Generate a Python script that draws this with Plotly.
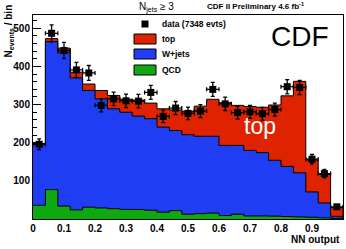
import plotly.graph_objects as go

# ---- data ----
bin_edges = [0.00, 0.04, 0.08, 0.12, 0.16, 0.20, 0.24, 0.28, 0.32, 0.36, 0.40, 0.44, 0.48,
             0.52, 0.56, 0.60, 0.64, 0.68, 0.72, 0.76, 0.80, 0.84, 0.88, 0.92, 0.96, 1.00]
qcd = [36, 77, 34, 24, 31, 29, 27, 25, 25, 23, 18, 22, 12.5, 14, 15.5, 9, 12.5, 8, 8, 7.5,
       6.5, 5.5, 4.5, 3, 1.5]
wjets = [159, 388, 402, 346, 306, 286, 262, 255, 245, 240, 223, 210, 208.5, 203, 201.5, 184,
         180.5, 172, 166, 146.5, 131.5, 115.5, 66.5, 39, 5.5]
top = [3, 8, 12, 15, 17, 22, 35, 34, 42, 41, 48, 54, 62, 79, 97, 112, 105, 115, 119, 145,
       185, 240, 84, 75, 23]
data = [196, 487, 442, 391, 383, 298, 315, 310, 309, 332, 269, 291, 277, 283, 340, 302, 279,
        281, 276, 287, 347, 345, 157, 119, 32]
data_err = [14.0, 22.1, 21.0, 19.8, 19.6, 17.3, 17.7, 17.6, 17.6, 18.2, 16.4, 17.1, 16.6,
            16.8, 18.4, 17.4, 16.7, 16.8, 16.6, 16.9, 18.6, 18.6, 12.5, 10.9, 5.7]
x_tickvals = [0, 0.1, 0.2, 0.3, 0.4, 0.5, 0.6, 0.7, 0.8, 0.9, 1.0]
x_ticktext = ["0", "0.1", "0.2", "0.3", "0.4", "0.5", "0.6", "0.7", "0.8", "0.9", "1"]
y_tickvals = [100, 200, 300, 400, 500]

RED = "#DF2200"
BLUE = "#1F3DF2"
GREEN = "#10A810"
FONT = "Liberation Sans"

W, H = 346, 249
L, R, T, B = 33, 3, 15, 30
PW, PH = W - L - R, H - T - B


def px2x(px):
    return (px - L) / PW


def py2y(py):
    return (H - B - py) / PH


n = len(data)
centers = [(bin_edges[i] + bin_edges[i + 1]) / 2 for i in range(n)]
half_w = [(bin_edges[i + 1] - bin_edges[i]) / 2 for i in range(n)]

# cumulative stacks
lvl_qcd = list(qcd)
lvl_w = [qcd[i] + wjets[i] for i in range(n)]
lvl_tot = [lvl_w[i] + top[i] for i in range(n)]

fig = go.Figure()

for lvl, col in [(lvl_tot, RED), (lvl_w, BLUE), (lvl_qcd, GREEN)]:
    fig.add_trace(go.Scatter(
        x=list(bin_edges) + [bin_edges[-1]],
        y=list(lvl) + [lvl[-1], 0],
        mode="lines", line=dict(shape="hv", color="black", width=1),
        fill="tozeroy", fillcolor=col, showlegend=False, hoverinfo="skip"))

fig.add_trace(go.Scatter(
    x=centers, y=data, mode="markers",
    marker=dict(symbol="square", size=7, color="black"),
    error_y=dict(type="data", array=data_err, color="black", thickness=1.3, width=2),
    error_x=dict(type="data", array=half_w, color="black", thickness=1.3, width=2),
    showlegend=False))

shapes = []
annotations = []

# manual legend
shapes.append(dict(type="rect", xref="paper", yref="paper",
                   x0=px2x(141.5), x1=px2x(148.5), y0=py2y(27.5), y1=py2y(20.5),
                   fillcolor="black", line=dict(width=0)))
legend_items = [("top", RED, 39), ("W+jets", BLUE, 54), ("QCD", GREEN, 70)]
for name, col, yc in legend_items:
    shapes.append(dict(type="rect", xref="paper", yref="paper",
                       x0=px2x(134), x1=px2x(156), y0=py2y(yc + 5), y1=py2y(yc - 5),
                       fillcolor=col, line=dict(color="black", width=1)))
    annotations.append(dict(xref="paper", yref="paper", x=px2x(160), y=py2y(yc),
                            text=name, showarrow=False, xanchor="left", yanchor="middle",
                            font=dict(family=FONT, size=8.5, color="black", weight="bold")))
annotations.append(dict(xref="paper", yref="paper", x=px2x(160), y=py2y(24),
                        text="data (7348 evts)", showarrow=False, xanchor="left",
                        yanchor="middle",
                        font=dict(family=FONT, size=8.5, color="black", weight="bold")))

# texts
annotations += [
    dict(xref="paper", yref="paper", x=px2x(300), y=py2y(37), text="CDF",
         showarrow=False, xanchor="center", yanchor="middle",
         font=dict(family=FONT, size=28, color="black")),
    dict(xref="paper", yref="paper", x=px2x(260), y=py2y(126), text="top",
         showarrow=False, xanchor="center", yanchor="middle",
         font=dict(family=FONT, size=23, color="white")),
    dict(xref="paper", yref="paper", x=px2x(156), y=py2y(8),
         text="N<sub>jets</sub> \u2265 3", showarrow=False, xanchor="center",
         yanchor="middle", font=dict(family=FONT, size=10, color="black")),
    dict(xref="paper", yref="paper", x=px2x(255), y=py2y(6),
         text="CDF II Preliminary 4.6 fb<sup>-1</sup>", showarrow=False,
         xanchor="center", yanchor="middle",
         font=dict(family=FONT, size=8, color="black", weight="bold")),
    dict(xref="paper", yref="paper", x=px2x(342), y=py2y(239), text="NN output",
         showarrow=False, xanchor="right", yanchor="middle",
         font=dict(family=FONT, size=10, color="black", weight="bold")),
    dict(xref="paper", yref="paper", x=px2x(9), y=py2y(3),
         text="N<sub>events</sub> / bin", showarrow=False, textangle=-90,
         xanchor="center", yanchor="top",
         font=dict(family=FONT, size=10, color="black", weight="bold")),
]

fig.update_layout(
    width=W, height=H,
    margin=dict(l=L, r=R, t=T, b=B, pad=0),
    paper_bgcolor="white", plot_bgcolor="white",
    shapes=shapes, annotations=annotations,
    xaxis=dict(range=[0, 1], tickvals=x_tickvals, ticktext=x_ticktext,
               ticks="inside", ticklen=8, tickcolor="black", showgrid=False,
               zeroline=False, showline=True, linecolor="black", linewidth=1,
               mirror=True, layer="below traces",
               tickfont=dict(family=FONT, size=10, color="black", weight="bold")),
    yaxis=dict(range=[0, 535], tickvals=y_tickvals, ticks="inside", ticklen=8,
               tickcolor="black", showgrid=False, zeroline=False, showline=True,
               linecolor="black", linewidth=1, mirror=True, layer="below traces",
               minor=dict(dtick=20, ticks="inside", ticklen=4, tickcolor="black",
                          showgrid=False),
               tickfont=dict(family=FONT, size=10, color="black", weight="bold")),
)

fig.write_html("out.html", config={"displayModeBar": False},
               post_script="document.body.style.margin='0px';")
